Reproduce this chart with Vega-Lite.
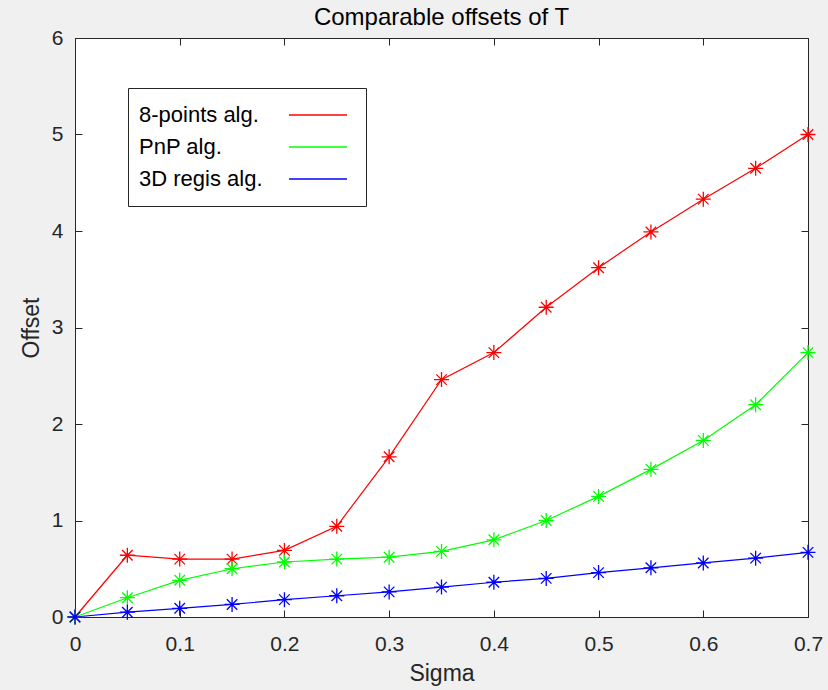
{
  "$schema": "https://vega.github.io/schema/vega-lite/v6.json",
  "width": 733,
  "height": 579,
  "autosize": {"type": "none"},
  "padding": {"left": 75, "top": 38, "right": 20, "bottom": 73},
  "background": "#f0f0f0",
  "title": {"text": "Comparable offsets of T", "fontSize": 24, "fontWeight": "normal", "font": "Liberation Sans", "color": "#000000", "offset": -22, "baseline": "alphabetic", "anchor": "middle"},
  "config": {
    "font": "Liberation Sans",
    "view": {"fill": "#ffffff", "stroke": "#262626", "strokeWidth": 1},
    "axis": {"domain": false, "grid": false, "tickColor": "#262626", "tickSize": -7, "labelFlush": false, "labelColor": "#262626", "labelFont": "Liberation Sans", "labelFontSize": 21, "titleFont": "Liberation Sans", "titleFontSize": 23, "titleFontWeight": "normal", "titleColor": "#262626"}
  },
  "data": {"values": [
    {"sigma": 0.0, "offset": 0.0, "alg": "8-points alg."},
    {"sigma": 0.05, "offset": 0.64, "alg": "8-points alg."},
    {"sigma": 0.1, "offset": 0.60, "alg": "8-points alg."},
    {"sigma": 0.15, "offset": 0.60, "alg": "8-points alg."},
    {"sigma": 0.2, "offset": 0.69, "alg": "8-points alg."},
    {"sigma": 0.25, "offset": 0.94, "alg": "8-points alg."},
    {"sigma": 0.3, "offset": 1.66, "alg": "8-points alg."},
    {"sigma": 0.35, "offset": 2.46, "alg": "8-points alg."},
    {"sigma": 0.4, "offset": 2.74, "alg": "8-points alg."},
    {"sigma": 0.45, "offset": 3.21, "alg": "8-points alg."},
    {"sigma": 0.5, "offset": 3.62, "alg": "8-points alg."},
    {"sigma": 0.55, "offset": 3.99, "alg": "8-points alg."},
    {"sigma": 0.6, "offset": 4.33, "alg": "8-points alg."},
    {"sigma": 0.65, "offset": 4.65, "alg": "8-points alg."},
    {"sigma": 0.7, "offset": 5.0, "alg": "8-points alg."},
    {"sigma": 0.0, "offset": 0.0, "alg": "PnP alg."},
    {"sigma": 0.05, "offset": 0.20, "alg": "PnP alg."},
    {"sigma": 0.1, "offset": 0.38, "alg": "PnP alg."},
    {"sigma": 0.15, "offset": 0.50, "alg": "PnP alg."},
    {"sigma": 0.2, "offset": 0.57, "alg": "PnP alg."},
    {"sigma": 0.25, "offset": 0.60, "alg": "PnP alg."},
    {"sigma": 0.3, "offset": 0.62, "alg": "PnP alg."},
    {"sigma": 0.35, "offset": 0.68, "alg": "PnP alg."},
    {"sigma": 0.4, "offset": 0.80, "alg": "PnP alg."},
    {"sigma": 0.45, "offset": 1.00, "alg": "PnP alg."},
    {"sigma": 0.5, "offset": 1.25, "alg": "PnP alg."},
    {"sigma": 0.55, "offset": 1.53, "alg": "PnP alg."},
    {"sigma": 0.6, "offset": 1.83, "alg": "PnP alg."},
    {"sigma": 0.65, "offset": 2.20, "alg": "PnP alg."},
    {"sigma": 0.7, "offset": 2.74, "alg": "PnP alg."},
    {"sigma": 0.0, "offset": 0.0, "alg": "3D regis alg."},
    {"sigma": 0.05, "offset": 0.05, "alg": "3D regis alg."},
    {"sigma": 0.1, "offset": 0.09, "alg": "3D regis alg."},
    {"sigma": 0.15, "offset": 0.13, "alg": "3D regis alg."},
    {"sigma": 0.2, "offset": 0.18, "alg": "3D regis alg."},
    {"sigma": 0.25, "offset": 0.22, "alg": "3D regis alg."},
    {"sigma": 0.3, "offset": 0.26, "alg": "3D regis alg."},
    {"sigma": 0.35, "offset": 0.31, "alg": "3D regis alg."},
    {"sigma": 0.4, "offset": 0.36, "alg": "3D regis alg."},
    {"sigma": 0.45, "offset": 0.40, "alg": "3D regis alg."},
    {"sigma": 0.5, "offset": 0.46, "alg": "3D regis alg."},
    {"sigma": 0.55, "offset": 0.51, "alg": "3D regis alg."},
    {"sigma": 0.6, "offset": 0.56, "alg": "3D regis alg."},
    {"sigma": 0.65, "offset": 0.61, "alg": "3D regis alg."},
    {"sigma": 0.7, "offset": 0.67, "alg": "3D regis alg."}
  ]},
  "layer": [
    {
      "mark": {"type": "line", "strokeWidth": 1.2, "clip": false},
      "encoding": {
        "x": {"field": "sigma", "type": "quantitative", "title": "Sigma",
              "scale": {"domain": [0, 0.7], "nice": false, "zero": false},
              "axis": {"orient": "bottom", "values": [0, 0.1, 0.2, 0.3, 0.4, 0.5, 0.6, 0.7], "format": "~g", "labelPadding": 23, "titlePadding": 8}},
        "y": {"field": "offset", "type": "quantitative", "title": "Offset",
              "scale": {"domain": [0, 6], "nice": false},
              "axis": {"orient": "left", "values": [0, 1, 2, 3, 4, 5, 6], "labelPadding": 19, "titlePadding": 8}},
        "color": {"field": "alg", "type": "nominal", "title": null,
                  "scale": {"domain": ["8-points alg.", "PnP alg.", "3D regis alg."], "range": ["#ff0000", "#00ff00", "#0000ff"]},
                  "legend": {"orient": "none", "legendX": 53, "legendY": 50, "symbolType": "M-4,0L4,0", "symbolSize": 210, "symbolStrokeWidth": 1.5,
                             "symbolOffset": 163, "labelOffset": -190, "labelFontSize": 22, "labelColor": "#000000", "labelFont": "Liberation Sans",
                             "rowPadding": 10, "padding": 16, "fillColor": "#ffffff", "strokeColor": "#262626"}},
        "order": {"field": "sigma"}
      }
    },
    {
      "mark": {"type": "point", "shape": "M-1,0L1,0M0,-1L0,1M-0.7,-0.7L0.7,0.7M-0.7,0.7L0.7,-0.7", "filled": false, "size": 225, "strokeWidth": 1.3, "opacity": 1, "clip": false},
      "encoding": {
        "x": {"field": "sigma", "type": "quantitative", "axis": null},
        "y": {"field": "offset", "type": "quantitative", "axis": null},
        "color": {"field": "alg", "type": "nominal", "legend": null}
      }
    },
    {
      "mark": {"type": "point", "opacity": 0},
      "encoding": {
        "x": {"field": "sigma", "type": "quantitative", "axis": {"orient": "top", "values": [0, 0.1, 0.2, 0.3, 0.4, 0.5, 0.6, 0.7], "labels": false, "title": null}},
        "y": {"field": "offset", "type": "quantitative", "axis": {"orient": "right", "values": [0, 1, 2, 3, 4, 5, 6], "labels": false, "title": null}}
      }
    }
  ],
  "resolve": {"axis": {"x": "independent", "y": "independent"}}
}
